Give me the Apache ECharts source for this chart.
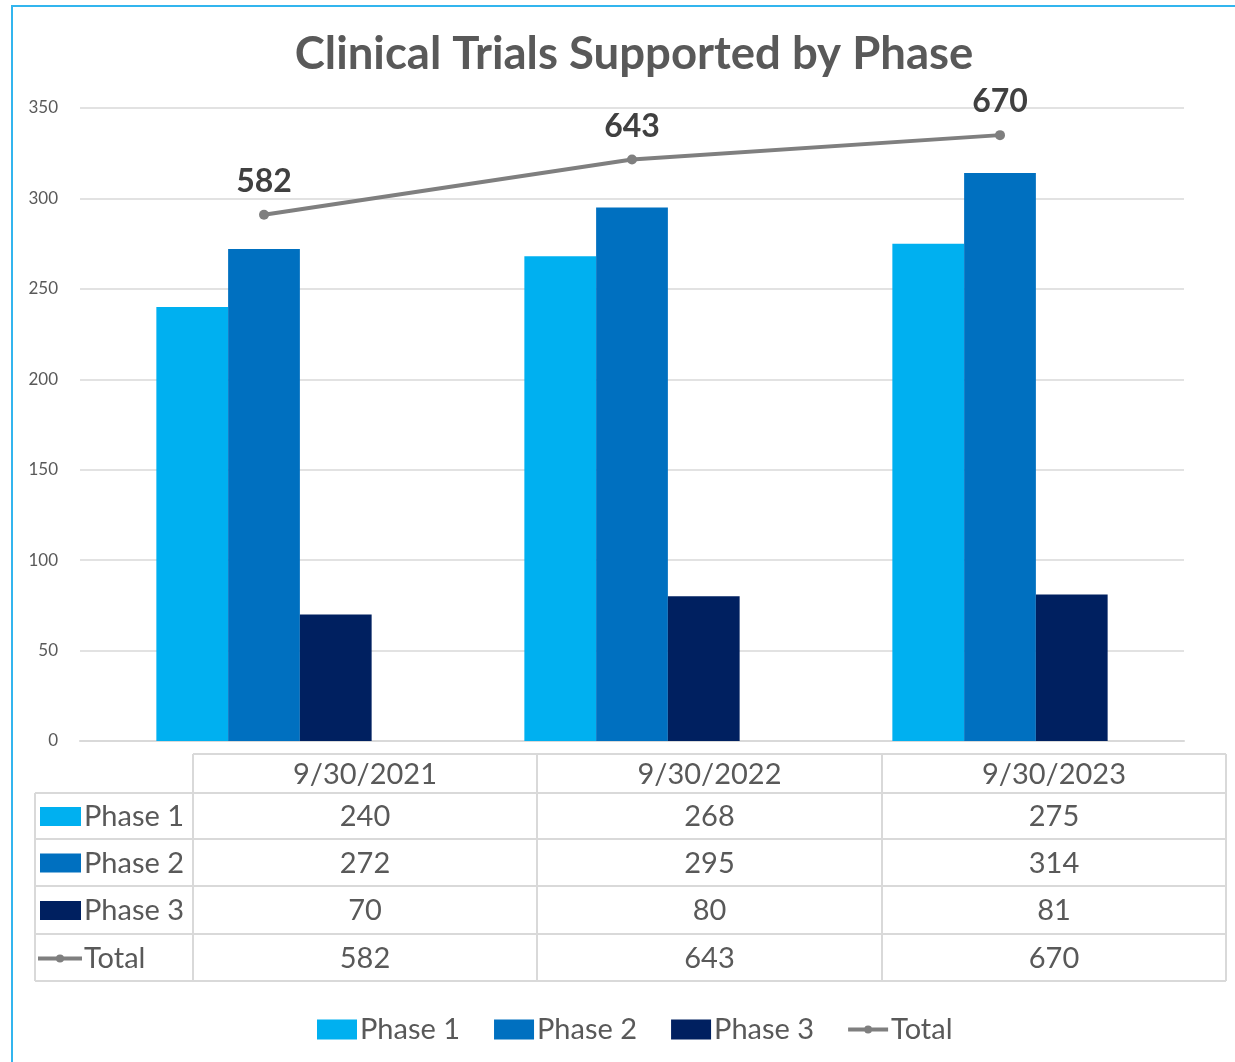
<!DOCTYPE html>
<html>
<head>
<meta charset="utf-8">
<script src="https://cdn.jsdelivr.net/npm/echarts@6/dist/echarts.min.js"></script>
<style>
html,body{margin:0;padding:0;background:#fff;}
#chart{width:1235px;height:1062px;}
</style>
</head>
<body>
<div id="chart"></div>
<script>
const categories = ['9/30/2021', '9/30/2022', '9/30/2023'];
const phase1 = [240, 268, 275];
const phase2 = [272, 295, 314];
const phase3 = [70, 80, 81];
const total = [582, 643, 670];
const seriesNames = ['Phase 1', 'Phase 2', 'Phase 3', 'Total'];
const yTicks = [0, 50, 100, 150, 200, 250, 300, 350];

const FONT = 'Lato';
const TXT = '#595959';
const colors = ['#00B0F0', '#0070C0', '#002060', '#7F7F7F'];
const TFS = 29;

const chart = echarts.init(document.getElementById('chart'));

// data table built from the arrays
const rows = [phase1, phase2, phase3, total];
const colX = [193, 537, 882, 1226];
const tableLeft = 35;
const rowY = [754, 793, 839, 886, 934, 981];
const lineColor = '#D9D9D9';
const g = [];
// chart border
g.push({type:'rect', shape:{x:12, y:6, width:1260, height:1100}, style:{fill:'none', stroke:'#33B5EE', lineWidth:2}, silent:true});
// horizontal lines
g.push({type:'line', shape:{x1:colX[0], y1:rowY[0], x2:colX[3], y2:rowY[0]}, style:{stroke:lineColor, lineWidth:2}});
for (let i = 1; i < rowY.length; i++) {
  g.push({type:'line', shape:{x1:tableLeft, y1:rowY[i], x2:colX[3], y2:rowY[i]}, style:{stroke:lineColor, lineWidth:2}});
}
// vertical lines
g.push({type:'line', shape:{x1:tableLeft, y1:rowY[1], x2:tableLeft, y2:rowY[5]}, style:{stroke:lineColor, lineWidth:2}});
colX.forEach(x => g.push({type:'line', shape:{x1:x, y1:rowY[0], x2:x, y2:rowY[5]}, style:{stroke:lineColor, lineWidth:2}}));
// header texts
categories.forEach((c, j) => {
  g.push({type:'text', x:(colX[j]+colX[j+1])/2, y:(rowY[0]+rowY[1])/2 + 1,
    style:{text:c, fill:TXT, font:TFS + 'px ' + FONT, textAlign:'center', textVerticalAlign:'middle'}});
});
rows.forEach((arr, i) => {
  const cy = (rowY[i+1] + rowY[i+2]) / 2 + 1;
  if (i < 3) {
    g.push({type:'rect', shape:{x:40, y:cy-10, width:41, height:19}, style:{fill:colors[i]}});
  } else {
    g.push({type:'line', shape:{x1:38, y1:cy, x2:82, y2:cy}, style:{stroke:colors[3], lineWidth:4}});
    g.push({type:'circle', shape:{cx:60, cy:cy, r:4}, style:{fill:colors[3]}});
  }
  g.push({type:'text', x:84, y:cy, style:{text:seriesNames[i], fill:TXT, font:TFS + 'px ' + FONT, textAlign:'left', textVerticalAlign:'middle'}});
  arr.forEach((v, j) => {
    g.push({type:'text', x:(colX[j]+colX[j+1])/2, y:cy, style:{text:String(v), fill:TXT, font:TFS + 'px ' + FONT, textAlign:'center', textVerticalAlign:'middle'}});
  });
});

const barCommon = {type:'bar', barGap:'0%', barCategoryGap:'41.5%', yAxisIndex:0};
const totalIcon = 'path://M0,2L40,2L40,6L0,6Z M16,4A4,4 0 1 1 24,4A4,4 0 1 1 16,4Z';

chart.setOption({
  animation:false,
  textStyle:{fontFamily:FONT},
  title:{
    text:'Clinical Trials Supported by Phase',
    left:629, textAlign:'center', top:26,
    textStyle:{fontFamily:FONT, fontSize:45.5, fontWeight:'bold', color:'#595959'}
  },
  legend:{
    bottom:13, left:312,
    itemWidth:40, itemHeight:20, itemGap:34,
    textStyle:{fontFamily:FONT, fontSize:TFS, color:TXT, padding:[0,0,0,-2]},
    data:[
      {name:seriesNames[0], icon:'rect'},
      {name:seriesNames[1], icon:'rect'},
      {name:seriesNames[2], icon:'rect'},
      {name:seriesNames[3], icon:totalIcon, itemStyle:{color:colors[3]}}
    ]
  },
  grid:{left:80, right:51, top:108, bottom:321},
  xAxis:{
    type:'category', data:categories,
    axisLine:{show:true, lineStyle:{color:'#D9D9D9', width:2}},
    axisTick:{show:false}, axisLabel:{show:false}
  },
  yAxis:[{
    type:'value', min:0, max:350, interval:50,
    axisLine:{show:false}, axisTick:{show:false},
    axisLabel:{color:TXT, fontSize:17, fontFamily:FONT, margin:22,
      formatter: v => yTicks.indexOf(v) >= 0 ? String(v) : ''},
    splitLine:{lineStyle:{color:'#D9D9D9', width:1.5}}
  },{
    type:'value', min:0, max:700, show:false, splitLine:{show:false}
  }],
  series:[
    Object.assign({name:seriesNames[0], data:phase1, itemStyle:{color:colors[0]}}, barCommon),
    Object.assign({name:seriesNames[1], data:phase2, itemStyle:{color:colors[1]}}, barCommon),
    Object.assign({name:seriesNames[2], data:phase3, itemStyle:{color:colors[2]}}, barCommon),
    {
      name:seriesNames[3], type:'line', yAxisIndex:1, data:total,
      symbol:'circle', symbolSize:10,
      lineStyle:{color:colors[3], width:4}, itemStyle:{color:colors[3]},
      label:{show:true, position:'top', distance:12, fontSize:32, fontWeight:'bold', color:'#404040', fontFamily:FONT},
      z:5
    }
  ],
  graphic:g
});
</script>
</body>
</html>
